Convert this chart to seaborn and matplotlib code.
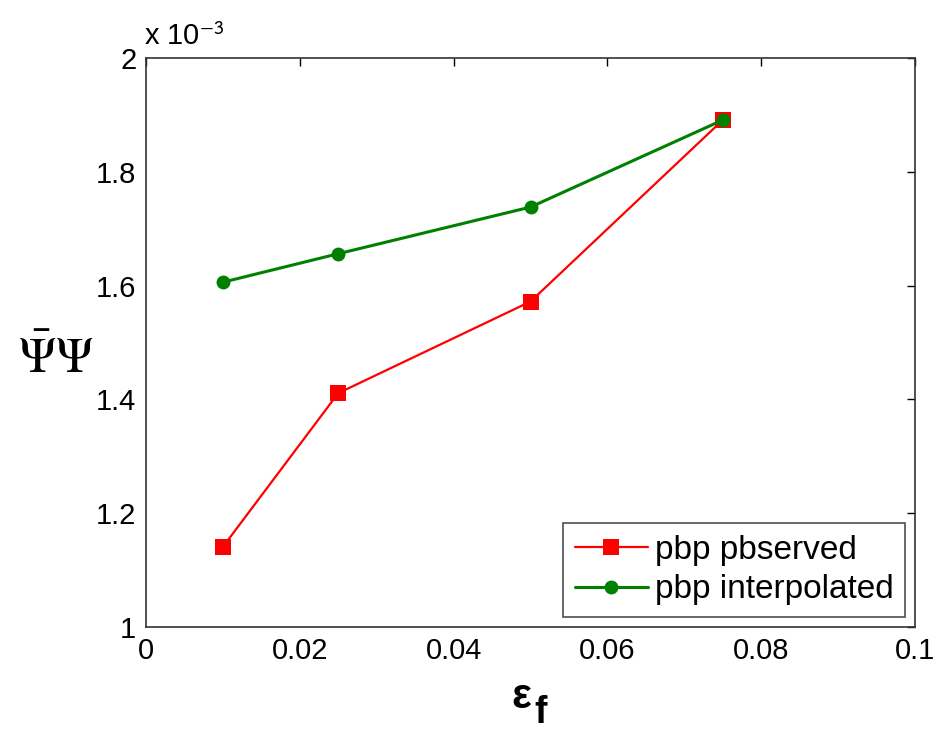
import pandas as pd
import seaborn as sns
import matplotlib.pyplot as plt
import matplotlib.ticker as ticker

eps_f = [0.01, 0.025, 0.05, 0.075]
pbp_observed = [1.141e-3, 1.411e-3, 1.572e-3, 1.891e-3]
pbp_interpolated = [1.606e-3, 1.656e-3, 1.738e-3, 1.891e-3]

df_obs = pd.DataFrame({'eps': eps_f, 'pbp': pbp_observed})
df_int = pd.DataFrame({'eps': eps_f, 'pbp': pbp_interpolated})

sns.set_style('white')
plt.rcParams['font.family'] = ['Liberation Sans', 'DejaVu Sans']
plt.rcParams['mathtext.fontset'] = 'stix'
plt.rcParams['text.color'] = 'black'
plt.rcParams['axes.labelcolor'] = 'black'

fig = plt.figure(figsize=(9.5, 7.32), dpi=100)
ax = fig.add_axes([0.1537, 0.1434, 0.8095, 0.7774])

sns.lineplot(data=df_obs, x='eps', y='pbp', ax=ax, color='#ff0000',
             marker='s', markersize=12, markeredgewidth=0, linewidth=1.6,
             label='pbp pbserved')
sns.lineplot(data=df_int, x='eps', y='pbp', ax=ax, color='#008000',
             marker='o', markersize=10, markeredgewidth=0, linewidth=2.2,
             label='pbp interpolated')

ax.set_xlim(0, 0.1)
ax.set_ylim(1e-3, 2e-3)
ax.set_xticks([0, 0.02, 0.04, 0.06, 0.08, 0.1])
ax.set_yticks([1e-3, 1.2e-3, 1.4e-3, 1.6e-3, 1.8e-3, 2e-3])
ax.xaxis.set_major_formatter(ticker.FuncFormatter(lambda x, pos: f'{x:g}'))
ax.yaxis.set_major_formatter(ticker.FuncFormatter(lambda y, pos: f'{round(y * 1e3, 2):g}'))
ax.tick_params(direction='in', length=6, width=1, labelsize=21, pad=7,
               top=True, right=True, colors='black')
for s in ax.spines.values():
    s.set_color('#333333')
    s.set_linewidth(1.2)

# x label: bold epsilon with a subscript f
ax.set_xlabel('ε', fontsize=30, fontweight='bold', va='baseline')
ax.xaxis.set_label_coords(0.488, -0.142)
ax.text(0.505, -0.168, 'f', transform=ax.transAxes, fontsize=27,
        fontweight='bold', ha='left', va='baseline')

ax.set_ylabel(r'$\bar{\Psi}\Psi$', fontsize=36, rotation=0, va='center', ha='center')
ax.yaxis.set_label_coords(-0.117, 0.47)

fig.text(0.152, 0.938, r'x 10$^{\mathsf{-3}}$', fontsize=21, ha='left', va='baseline')

leg = ax.legend(loc='lower right', fontsize=24, frameon=True, fancybox=False,
                edgecolor='#222222', handlelength=2.2, handletextpad=0.2,
                borderaxespad=0.3, borderpad=0.35, labelspacing=0.25)
leg.get_frame().set_linewidth(1.2)

fig.savefig('out.png', dpi=100)
